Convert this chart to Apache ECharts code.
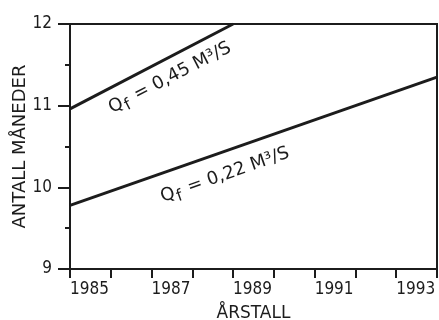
<!DOCTYPE html>
<html><head><meta charset="utf-8">
<script src="https://cdn.jsdelivr.net/npm/echarts@6/dist/echarts.min.js"></script>
<style>html,body{margin:0;padding:0;background:#fff}#c{width:439px;height:320px}</style>
</head><body><div id="c"></div>
<script>
var yearsHigh = [1985, 1989];
var valuesHigh = [10.96, 12.0];
var yearsLow = [1985, 1994];
var valuesLow = [9.78, 11.35];
var xTickLabels = ['1985', '1987', '1989', '1991', '1993'];
var yTickLabels = ['9', '10', '11', '12'];
var labelHigh = {x: 1987.45, y: 11.34, q: '0,45'};
var labelLow = {x: 1988.8, y: 10.15, q: '0,22'};

var ink = '#1c1c1c';
var font = 'DejaVu Sans Condensed';
var nameFont = 'DejaVu Sans';

function pairs(xs, ys){ return xs.map(function(x,i){return [x, ys[i]];}); }
function annot(l, rot){
  return {
    coord: [l.x, l.y], symbol: 'circle', symbolSize: 1,
    itemStyle: {color: 'rgba(0,0,0,0)'},
    label: {
      show: true, position: 'inside', rotate: rot, color: ink,
      formatter: '{q|Q}{s|f}{q| = ' + l.q + ' M³/S}',
      rich: {
        q: {fontFamily: nameFont, fontSize: 18, color: ink},
        s: {fontFamily: nameFont, fontSize: 16, color: ink, padding: [10,2,0,1]}
      }
    }
  };
}

var chart = echarts.init(document.getElementById('c'), null, {renderer: 'canvas'});
chart.setOption({
  backgroundColor: '#ffffff',
  animation: false,
  grid: {left: 70, top: 24, right: 2, bottom: 51, show: true, borderColor: ink, borderWidth: 2,
         containLabel: false, outerBoundsMode: 'none'},
  xAxis: {
    type: 'value', min: 1985, max: 1994, interval: 1,
    name: 'ÅRSTALL', nameLocation: 'middle', nameGap: 36,
    nameTextStyle: {fontFamily: nameFont, fontSize: 17, color: ink},
    axisLine: {lineStyle: {color: ink, width: 2}},
    axisTick: {length: 9, lineStyle: {color: ink, width: 2}},
    splitLine: {show: false},
    axisLabel: {
      fontFamily: font, fontSize: 17, color: ink, align: 'left', margin: 12,
      formatter: function(v){ var s = String(v); return xTickLabels.indexOf(s) >= 0 ? s : ''; }
    }
  },
  yAxis: {
    type: 'value', min: 9, max: 12, interval: 1,
    name: 'ANTALL MÅNEDER', nameLocation: 'middle', nameGap: 41, nameMoveOverlap: false,
    nameTextStyle: {fontFamily: nameFont, fontSize: 18, color: ink},
    axisLine: {lineStyle: {color: ink, width: 2}},
    axisTick: {length: 12, lineStyle: {color: ink, width: 2}},
    minorTick: {show: true, splitNumber: 2, length: 5, lineStyle: {color: ink, width: 2}},
    splitLine: {show: false},
    axisLabel: {
      fontFamily: font, fontSize: 17, color: ink, margin: 18,
      formatter: function(v){ var s = String(v); return yTickLabels.indexOf(s) >= 0 ? s : ''; }
    }
  },
  series: [
    {type: 'line', data: pairs(yearsHigh, valuesHigh), symbol: 'none',
     lineStyle: {color: ink, width: 3}, clip: true,
     markPoint: {symbol: 'circle', symbolSize: 1, data: [annot(labelHigh, 27.4)]}},
    {type: 'line', data: pairs(yearsLow, valuesLow), symbol: 'none',
     lineStyle: {color: ink, width: 3}, clip: true,
     markPoint: {symbol: 'circle', symbolSize: 1, data: [annot(labelLow, 19.4)]}}
  ]
});
</script>
</body></html>
